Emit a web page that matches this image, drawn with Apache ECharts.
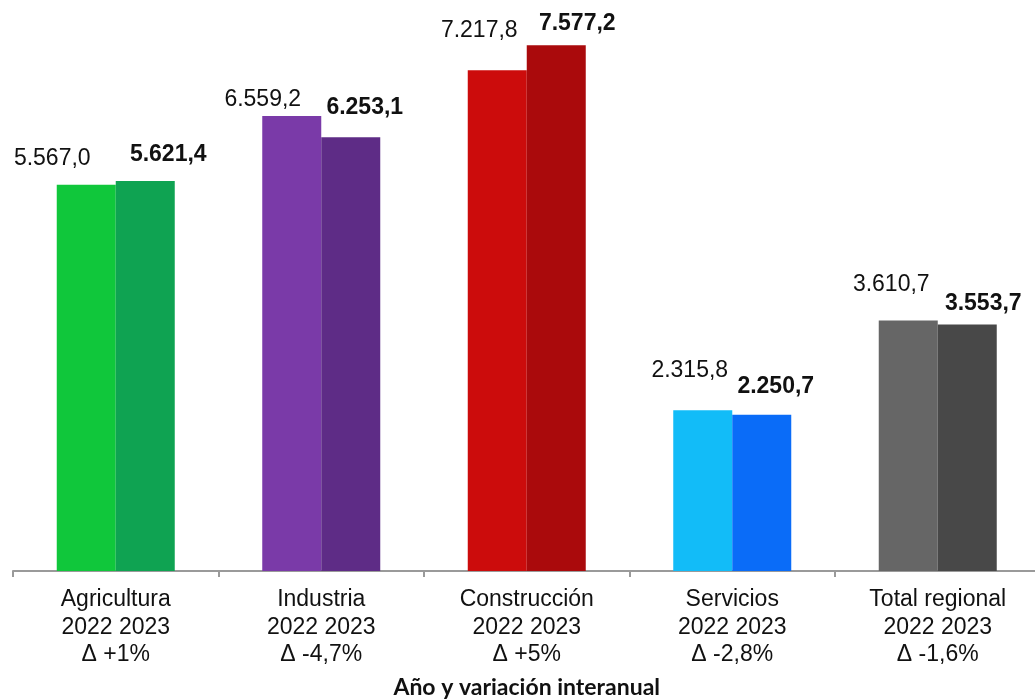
<!DOCTYPE html>
<html>
<head>
<meta charset="utf-8">
<script src="https://cdn.jsdelivr.net/npm/echarts@6/dist/echarts.min.js"></script>
<style>
  html, body { margin: 0; padding: 0; background: #ffffff; }
  #chart { width: 1035px; height: 700px; }
</style>
</head>
<body>
<div id="chart"></div>
<script>
const categories = ['Agricultura', 'Industria', 'Construcción', 'Servicios', 'Total regional'];
const variation = ['+1%', '-4,7%', '+5%', '-2,8%', '-1,6%'];
const values2022 = [5567.0, 6559.2, 7217.8, 2315.8, 3610.7];
const values2023 = [5621.4, 6253.1, 7577.2, 2250.7, 3553.7];
const axisTitle = 'Año y variación interanual';

// styling (not data)
const colors2022 = ['#10C73B', '#7A3AA8', '#CC0C0C', '#12BCF8', '#666666'];
const colors2023 = ['#0FA352', '#5E2C86', '#AA0A0C', '#0A6CF8', '#484848'];
const labelShift2022 = [[-34, -26], [-29, -16], [-18, -40], [-13, -40], [-17, -36]];
const labelShift2023 = [[23, -26], [14, -30], [21, -22], [14, -28], [16, -21]];

function fmt(v) {
  const parts = v.toFixed(1).split('.');
  const intPart = parts[0].replace(/\B(?=(\d{3})+(?!\d))/g, '.');
  return intPart + ',' + parts[1];
}

const LH = 24;
function buildData(vals, colors, shifts) {
  return vals.map((v, i) => ({
    value: v,
    itemStyle: { color: colors[i] },
    label: {
      offset: [shifts[i][0], shifts[i][1] + LH / 2]
    }
  }));
}

const chart = echarts.init(document.getElementById('chart'), null, { renderer: 'canvas' });
const labelBase = {
  show: true,
  position: 'top',
  distance: 0,
  fontFamily: 'Liberation Sans, Arial, sans-serif',
  fontSize: 23,
  lineHeight: LH,
  color: '#111111',
  formatter: p => fmt(p.value)
};

chart.setOption({
  animation: false,
  backgroundColor: '#ffffff',
  grid: { left: 13, top: 16, width: 1027.5, height: 555, containLabel: false, outerBoundsMode: 'none' },
  xAxis: {
    type: 'category',
    data: categories,
    boundaryGap: true,
    axisLine: { show: true, lineStyle: { color: '#9a9a9a', width: 2 } },
    axisTick: { show: true, length: 6, lineStyle: { color: '#9a9a9a', width: 2 } },
    axisLabel: {
      interval: 0,
      margin: 15,
      fontFamily: 'Liberation Sans, Arial, sans-serif',
      fontSize: 23,
      lineHeight: 27.5,
      color: '#111111',
      formatter: (val, idx) => val + '\n2022 2023\nΔ ' + variation[idx]
    },
    name: axisTitle,
    nameLocation: 'middle',
    nameGap: 105,
    nameTextStyle: {
      fontFamily: 'Lato, sans-serif',
      fontWeight: 'bold',
      fontSize: 23,
      lineHeight: 24,
      color: '#111111'
    }
  },
  yAxis: { type: 'value', min: 0, max: 8000, show: false, splitLine: { show: false } },
  series: [
    {
      name: '2022',
      type: 'bar',
      barWidth: 59,
      barGap: '0%',
      data: buildData(values2022, colors2022, labelShift2022),
      label: Object.assign({}, labelBase, { fontWeight: 'normal' })
    },
    {
      name: '2023',
      type: 'bar',
      barWidth: 59,
      barGap: '0%',
      data: buildData(values2023, colors2023, labelShift2023),
      label: Object.assign({}, labelBase, { fontWeight: 'bold' })
    }
  ]
});
</script>
</body>
</html>
